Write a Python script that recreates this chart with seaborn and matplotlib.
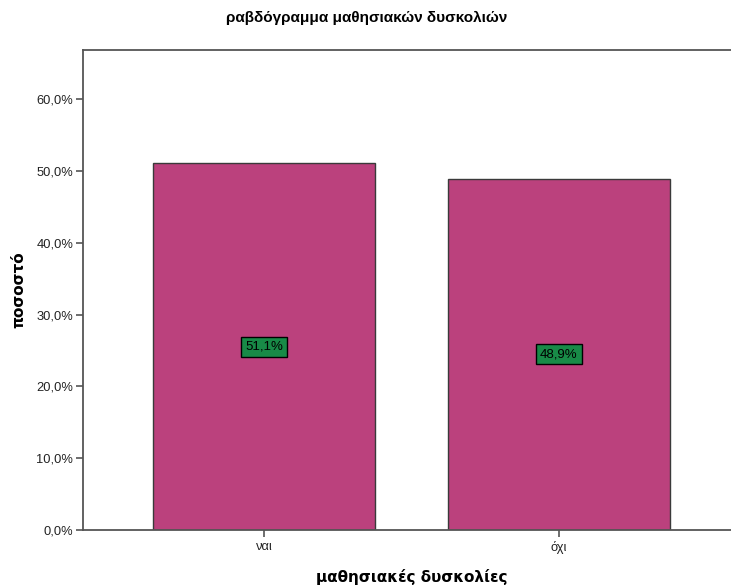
import matplotlib
matplotlib.use("Agg")
import matplotlib.pyplot as plt
import seaborn as sns
import pandas as pd
from matplotlib.ticker import FuncFormatter

# Data
categories = ["ναι", "όχι"]
percentages = [51.1, 48.9]
y_ticks = [0, 10, 20, 30, 40, 50, 60]

title = "ραβδόγραμμα μαθησιακών δυσκολιών"
x_label = "μαθησιακές δυσκολίες"
y_label = "ποσοστό"

bar_color = "#BB417D"
label_box_color = "#188A47"
edge_color = "#3A3A3A"
axis_color = "#555555"

sns.set_theme(style="white")
plt.rcParams["font.family"] = ["Liberation Sans", "DejaVu Sans"]

df = pd.DataFrame({"category": categories, "percent": percentages})

fig = plt.figure(figsize=(7.31, 5.88), dpi=100)
ax = fig.add_axes([83 / 731, 1 - 530 / 588, 657 / 731, 480 / 588])

sns.barplot(data=df, x="category", y="percent", color=bar_color,
            saturation=1, width=0.752, edgecolor=edge_color, linewidth=1.0, ax=ax)

ax.set_xlim(-0.614, 1.614)
ax.set_ylim(0, 66.85)
ax.set_yticks(y_ticks)
ax.yaxis.set_major_formatter(FuncFormatter(lambda v, _: f"{v:.1f}%".replace(".", ",")))

# Value labels in the middle of each bar
for i, v in enumerate(percentages):
    ax.text(i, v / 2, f"{v:.1f}%".replace(".", ","), ha="center", va="center",
            fontsize=9.5, color="black",
            bbox=dict(boxstyle="square,pad=0.3", facecolor=label_box_color,
                      edgecolor="black", linewidth=1.0))

for side in ["left", "bottom", "top"]:
    ax.spines[side].set_visible(True)
    ax.spines[side].set_color(axis_color)
    ax.spines[side].set_linewidth(1.3)
ax.spines["right"].set_visible(False)

ax.tick_params(axis="both", which="both", direction="out", length=5, width=1.2,
               color=axis_color, labelsize=9.3, labelcolor="#222222", pad=2)
ax.tick_params(axis="y", left=True)
ax.tick_params(axis="x", bottom=True, pad=3)

ax.set_xlabel(x_label, fontsize=11, fontweight="bold", labelpad=11,
              family=["DejaVu Sans"], color="black")
ax.set_ylabel(y_label, fontsize=11, fontweight="bold", labelpad=7,
              family=["DejaVu Sans"], color="black")
fig.text(367 / 731, 1 - 18 / 588, title, ha="center", va="center",
         fontsize=11, fontweight="bold", color="black")

fig.savefig("out.png", dpi=100)
